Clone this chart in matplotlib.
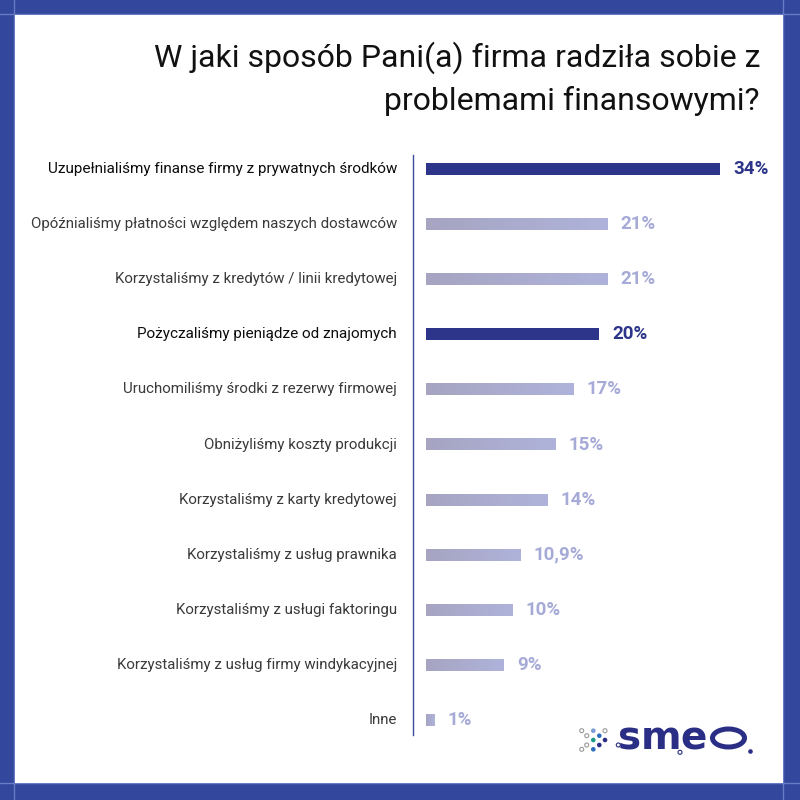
import numpy as np
import matplotlib
matplotlib.use("Agg")
import matplotlib.pyplot as plt
from matplotlib.patches import Rectangle, Circle, Ellipse
from matplotlib.colors import LinearSegmentedColormap

# ---- data ----
categories = [
    "Uzupełnialiśmy finanse firmy z prywatnych środków",
    "Opóźnialiśmy płatności względem naszych dostawców",
    "Korzystaliśmy z kredytów / linii kredytowej",
    "Pożyczaliśmy pieniądze od znajomych",
    "Uruchomiliśmy środki z rezerwy firmowej",
    "Obniżyliśmy koszty produkcji",
    "Korzystaliśmy z karty kredytowej",
    "Korzystaliśmy z usług prawnika",
    "Korzystaliśmy z usługi faktoringu",
    "Korzystaliśmy z usług firmy windykacyjnej",
    "Inne",
]
values = [34, 21, 21, 20, 17, 15, 14, 10.9, 10, 9, 1]
value_labels = ["34%", "21%", "21%", "20%", "17%", "15%", "14%", "10,9%", "10%", "9%", "1%"]
highlighted = [True, False, False, True, False, False, False, False, False, False, False]

title_lines = ["W jaki sposób Pani(a) firma radziła sobie z", "problemami finansowymi?"]

# ---- styles ----
FRAME = "#33479c"
FRAME_LINE = "#6a7bc6"
DARK = "#2c3589"
LIGHT_TXT = "#a6aad6"
AXIS_LINE = "#3d4ca2"
light_cmap = LinearSegmentedColormap.from_list("lightbar", ["#a6a4c1", "#afb3db"])

W = H = 800
fig = plt.figure(figsize=(8, 8), dpi=100)
fig.patch.set_facecolor(FRAME)


def fx(px):
    return px / W


def fy(py):
    return 1 - py / H


# frame: blue border with white panel and thin lighter seams
bg = fig.add_axes([0, 0, 1, 1])
bg.set_xlim(0, W)
bg.set_ylim(H, 0)
bg.axis("off")
bg.set_facecolor(FRAME)
for pos in (14, 783):
    bg.plot([pos, pos], [0, H], color=FRAME_LINE, lw=1.0, zorder=1)
    bg.plot([0, W], [pos, pos], color=FRAME_LINE, lw=1.0, zorder=1)
bg.add_patch(Rectangle((14.5, 14.5), 768, 768, facecolor="white", edgecolor="none", zorder=2))

# title
title_font = ["Roboto", "DejaVu Sans"]
fig.text(fx(760), fy(58), title_lines[0], ha="right", va="center",
         fontsize=23, color="#111111", family=title_font)
fig.text(fx(760), fy(101), title_lines[1], ha="right", va="center",
         fontsize=23, color="#111111", family=title_font)

# chart axes: x from 0 (px 426) at 8.65 px per percent, rows 55.1 px apart
px_per_pct = 8.65
row_gap = 55.1
x_max = 40
ax_left, ax_right = 426, 426 + px_per_pct * x_max
ax_top, ax_bottom = 169 - row_gap / 2, 720 + row_gap / 2
ax = fig.add_axes([fx(ax_left), fy(ax_bottom), (ax_right - ax_left) / W, (ax_bottom - ax_top) / H])
ax.set_xlim(0, x_max)
ax.set_ylim(len(values) - 0.5, -0.5)
ax.axis("off")
ax.patch.set_alpha(0)

y = np.arange(len(values))
bar_h = 12 / row_gap
bars = ax.barh(y, values, height=bar_h,
               color=[DARK if h else "#aaabcd" for h in highlighted],
               edgecolor="none", zorder=2)

# soft horizontal gradient on the grey bars
grad = np.linspace(0, 1, 256).reshape(1, -1)
for bar, v, yi, h in zip(bars, values, y, highlighted):
    if h:
        continue
    im = ax.imshow(grad, cmap=light_cmap, aspect="auto", zorder=3,
                   extent=[0, v, yi + bar_h / 2, yi - bar_h / 2])
    im.set_clip_path(bar)
ax.set_xlim(0, x_max)
ax.set_ylim(len(values) - 0.5, -0.5)

# vertical axis line left of the bars
line_x = -13 / px_per_pct
ax.plot([line_x, line_x], [-0.25, 10.28], color=AXIS_LINE, lw=1.0, clip_on=False, zorder=1)

# category labels and value labels
for yi, cat, v, lab, h in zip(y, categories, values, value_labels, highlighted):
    ax.annotate(cat, xy=(0, yi), xytext=(-29, 0), textcoords="offset pixels",
                ha="right", va="center", fontsize=11 if h else 10.8, family="Roboto",
                fontweight="normal",
                color="#0d0d0d" if h else "#3a3a3a", annotation_clip=False)
    ax.annotate(lab, xy=(v, yi), xytext=(13, 0), textcoords="offset pixels",
                ha="left", va="center", fontsize=13.5, family="Roboto",
                fontweight="bold", color=DARK if h else LIGHT_TXT, annotation_clip=False)

# brand mark, bottom right
logo = fig.add_axes([0, 0, 1, 1])
logo.set_xlim(0, W)
logo.set_ylim(H, 0)
logo.axis("off")
logo.patch.set_alpha(0)
NAVY = "#2b2e85"
dots = [
    (581.7, 730.7, "open", "#9a9a9a"), (593.3, 730.7, "fill", "#7c9bd8"), (605.0, 730.7, "open", "#9a9a9a"),
    (586.7, 735.7, "open", "#9a9a9a"), (599.3, 735.7, "fill", "#2f6fc0"),
    (593.3, 740.0, "fill", "#1c9a8c"), (605.0, 740.0, "fill", NAVY),
    (586.7, 745.0, "open", "#9a9a9a"), (599.3, 745.0, "fill", NAVY),
    (581.7, 749.3, "open", "#9a9a9a"), (593.3, 749.3, "fill", "#2f6fc0"),
    (618.3, 745.0, "open", NAVY), (680.0, 752.3, "open", NAVY),
    (750.5, 751.5, "fill", NAVY),
]
for ch, cx in zip("sme", [630, 661, 693.5]):
    logo.text(cx, 738, ch, ha="center", va="center", fontsize=28, fontweight="bold",
              family="DejaVu Sans", color=NAVY, zorder=4)
logo.add_patch(Ellipse((728.5, 738), 32, 18, facecolor="none", edgecolor=NAVY, lw=3.6, zorder=4))
for cx, cy, kind, col in dots:
    if kind == "fill":
        logo.add_patch(Circle((cx, cy), 2.3, facecolor=col, edgecolor="none", zorder=5))
    else:
        logo.add_patch(Circle((cx, cy), 2.0, facecolor="white", edgecolor=col, lw=0.8, zorder=5))

fig.savefig("out.png", dpi=100, facecolor=FRAME)
